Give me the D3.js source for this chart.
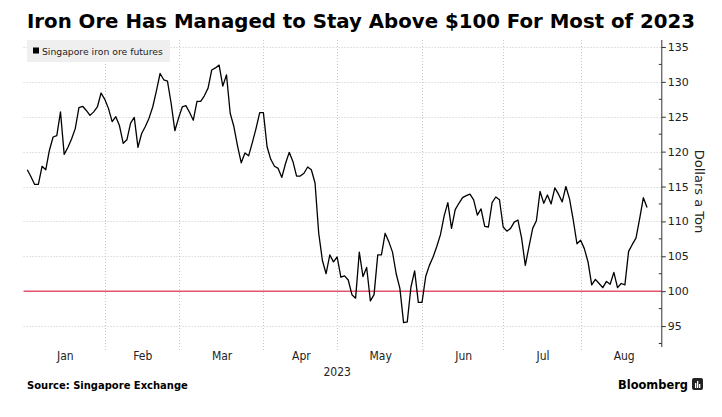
<!DOCTYPE html>
<html><head><meta charset="utf-8">
<script src="https://cdn.jsdelivr.net/npm/d3@7/dist/d3.min.js"></script>
<style>body{margin:0;background:#fff}svg{display:block}</style>
</head><body>
<svg id="c" width="722" height="417"></svg>
<script>
// ---------- data ----------
const titleText = "Iron Ore Has Managed to Stay Above $100 For Most of 2023";
const seriesName = "Singapore iron ore futures";
const calendarStart = "2023-01-02";   // first weekday of the axis
const calendarEnd = "2023-08-31";     // last weekday of the axis
const firstTradeDate = "2023-01-03";
const prices = [
117.4,116.4,115.3,115.3,117.9,117.4,120.2,122.1,122.3,125.7,
119.6,120.6,121.8,123.3,126.3,126.5,125.9,125.2,125.7,126.4,
128.4,127.5,126.2,124.3,125.0,123.7,121.2,121.7,124.1,124.9,
120.6,122.6,123.6,124.8,126.4,128.7,131.2,130.3,130.1,126.9,
123.0,124.8,126.4,126.6,125.6,124.5,127.2,127.2,128.0,129.1,
131.7,132.0,132.4,129.4,131.0,125.5,123.6,120.8,118.4,119.8,
119.4,121.3,123.3,125.6,125.6,120.7,118.9,117.9,117.6,116.3,
118.3,119.9,118.6,116.5,116.5,116.9,117.8,117.4,115.5,108.3,
104.4,102.5,105.2,104.2,104.9,102.0,102.2,101.6,99.5,99.0,
105.6,102.1,103.4,98.6,99.5,105.2,105.2,108.3,107.1,105.6,
102.5,100.4,95.5,95.6,100.6,102.9,98.4,98.4,102.1,103.7,
104.9,106.4,108.1,110.8,112.7,109.0,111.7,112.6,113.4,113.7,
113.9,113.1,110.9,111.8,109.3,109.2,112.7,113.5,113.1,109.2,
108.6,109.0,109.9,110.2,107.6,103.7,106.4,109.0,110.1,114.3,
112.6,113.8,112.5,114.8,113.9,112.8,115.0,113.2,110.2,106.8,
107.3,106.1,104.2,100.9,101.7,101.1,100.5,101.4,101.0,102.7,
100.5,101.1,100.9,105.7,106.7,107.6,110.4,113.4,112.0
];
const yTicks = [95,100,105,110,115,120,125,130,135];
const yMinorTicks = [92.5,97.5,102.5,107.5,112.5,117.5,122.5,127.5,132.5];
const yDomain = [92,136];
const monthLabels = ["Jan","Feb","Mar","Apr","May","Jun","Jul","Aug"];
const yearLabel = "2023";
const thresholdValue = 100;
const yAxisTitle = "Dollars a Ton";
const sourceText = "Source: Singapore Exchange";
const brandText = "Bloomberg";

// ---------- layout ----------
const M = {left:23.6, right:661.8, top:40, bottom:347};
const svg = d3.select("#c");
const parse = d3.utcParse("%Y-%m-%d");

// weekday calendar (trading-day axis)
const calendar = d3.utcDays(parse(calendarStart), d3.utcDay.offset(parse(calendarEnd),1))
  .filter(d => d.getUTCDay() !== 0 && d.getUTCDay() !== 6);
const t0 = parse(firstTradeDate).getTime();
const offset = calendar.findIndex(d => d.getTime() === t0);
const points = prices.map((v,i) => ({i: i + offset, v}));

const x = d3.scaleLinear().domain([0, calendar.length - 1]).range([M.left, M.right]);
const y = d3.scaleLinear().domain(yDomain).range([M.bottom, M.top]);

// month boundaries
const monthStarts = [];
calendar.forEach((d,i) => { if (i > 0 && d.getUTCMonth() !== calendar[i-1].getUTCMonth()) monthStarts.push(i); });
const bounds = [0, ...monthStarts, calendar.length];

const grid = svg.append("g");
grid.selectAll("line.h").data(yTicks).join("line")
  .attr("x1", M.left).attr("x2", M.right)
  .attr("y1", d => Math.round(y(d)) + 0.5).attr("y2", d => Math.round(y(d)) + 0.5)
  .attr("stroke", "#c8c8c8").attr("stroke-width", 1).attr("stroke-dasharray", "1,2");
grid.selectAll("line.v").data(monthStarts).join("line")
  .attr("x1", d => Math.round(x(d)) + 0.5).attr("x2", d => Math.round(x(d)) + 0.5)
  .attr("y1", M.top).attr("y2", M.bottom + 3)
  .attr("stroke", "#c8c8c8").attr("stroke-width", 1).attr("stroke-dasharray", "1,2");

// threshold line
svg.append("line")
  .attr("x1", M.left).attr("x2", M.right)
  .attr("y1", y(thresholdValue)).attr("y2", y(thresholdValue))
  .attr("stroke", "#e5536f").attr("stroke-width", 1.6);

// series line
const line = d3.line().x(d => x(d.i)).y(d => y(d.v));
svg.append("path").datum(points)
  .attr("d", line).attr("fill", "none")
  .attr("stroke", "#000").attr("stroke-width", 1.3).attr("stroke-linejoin", "round");

// y axis
const yAxisG = svg.append("g").attr("transform", `translate(${M.right},0)`);
yAxisG.call(d3.axisRight(y).tickValues(yTicks).tickSize(4).tickSizeOuter(0).tickPadding(2));
yAxisG.select(".domain").remove();
yAxisG.append("line").attr("x1",0).attr("x2",0).attr("y1",M.top).attr("y2",M.bottom).attr("stroke","#333");
yAxisG.selectAll(".tick line").attr("stroke","#333");
yAxisG.selectAll(".tick text").attr("font-family","DejaVu Sans").attr("font-size","11px").attr("fill","#222");
yAxisG.selectAll("line.minor").data(yMinorTicks).join("line").attr("class","minor")
  .attr("x1",-3).attr("x2",0).attr("y1",d=>y(d)).attr("y2",d=>y(d)).attr("stroke","#333");

svg.append("text").text(yAxisTitle)
  .attr("transform", `translate(695,${(M.top+M.bottom)/2 - 2}) rotate(90)`)
  .attr("text-anchor","middle").attr("font-family","DejaVu Sans").attr("font-size","13px").attr("fill","#222");

// month labels
svg.selectAll("text.month").data(monthLabels).join("text").attr("class","month")
  .text(d => d)
  .attr("x", (d,i) => x((bounds[i] + bounds[i+1]) / 2 + 0.3))
  .attr("y", 360).attr("text-anchor","middle")
  .attr("font-family","DejaVu Sans Condensed, DejaVu Sans").attr("font-size","12px").attr("fill","#222");
svg.append("text").text(yearLabel)
  .attr("x", x(monthStarts[3])).attr("y", 376).attr("text-anchor","middle")
  .attr("font-family","DejaVu Sans Condensed, DejaVu Sans").attr("font-size","12px").attr("fill","#222");

// helper: fit text to width
function fit(sel, w) {
  const n = sel.node(); const fs = parseFloat(sel.attr("font-size"));
  const cur = n.getComputedTextLength(); sel.attr("font-size", (fs * w / cur).toFixed(2) + "px");
}

// title
const title = svg.append("text").text(titleText)
  .attr("x", 27).attr("y", 28).attr("font-family","DejaVu Sans").attr("font-weight","bold")
  .attr("font-size","19px").attr("fill","#000");
fit(title, 668);

// legend
svg.append("rect").attr("x",27).attr("y",40).attr("width",143).attr("height",22).attr("fill","#efefef");
svg.append("rect").attr("x",33).attr("y",47.5).attr("width",6).attr("height",6).attr("fill","#000");
const lg = svg.append("text").text(seriesName).attr("x",42).attr("y",54.5)
  .attr("font-family","DejaVu Sans").attr("font-size","10px").attr("fill","#222");
fit(lg, 121);

// footer
const src = svg.append("text").text(sourceText).attr("x",27).attr("y",389)
  .attr("font-family","DejaVu Sans").attr("font-weight","bold").attr("font-size","10px").attr("fill","#000");
fit(src, 161);
const br = svg.append("text").text(brandText).attr("x",688).attr("y",389).attr("text-anchor","end")
  .attr("font-family","DejaVu Sans").attr("font-weight","bold").attr("font-size","13px").attr("fill","#000");
fit(br, 70);
const logo = svg.append("g").attr("transform","translate(692,378)");
logo.append("rect").attr("width",11).attr("height",12).attr("rx",2).attr("fill","#222");
[[3,5],[5,3],[7,6]].forEach(([bx,by]) => logo.append("rect").attr("x",bx).attr("y",by).attr("width",1.3).attr("height",12-by-2).attr("fill","#fff"));
</script>
</body></html>
